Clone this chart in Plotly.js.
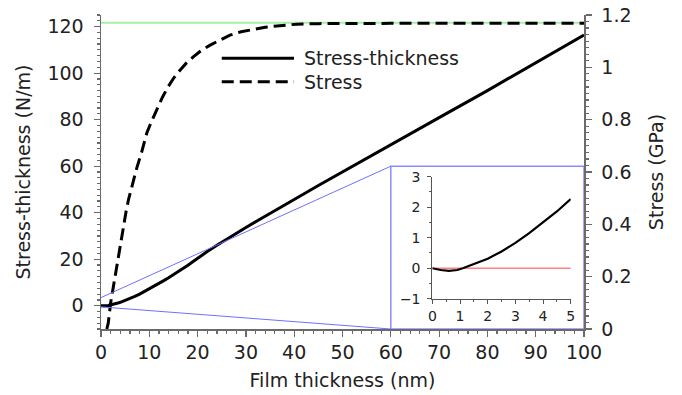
<!DOCTYPE html>
<html>
<head>
<meta charset="utf-8">
<script src="https://cdn.plot.ly/plotly-3.0.1.min.js"></script>
<style>html,body{margin:0;padding:0;background:#fff;}#chart{width:682px;height:395px;}</style>
</head>
<body>
<div id="chart"></div>
<script>
// Stress-thickness (N/m) vs film thickness (nm)
const stX = [0, 0.3, 0.6, 0.9, 1.1, 1.5, 2, 2.5, 3, 3.5, 4, 4.5, 5, 6, 7, 8, 9, 10, 11, 12, 13, 14, 15, 16, 17, 18, 19, 20, 22, 24, 26, 28, 30, 33, 36, 40, 45, 50, 60, 70, 80, 90, 100];
const stY = [0, -0.06, -0.09, -0.06, 0, 0.13, 0.31, 0.55, 0.83, 1.15, 1.49, 1.86, 2.27, 3.1, 4.0, 5.0, 6.1, 7.3, 8.4, 9.6, 10.8, 12.0, 13.3, 14.7, 16.0, 17.4, 18.9, 20.4, 23.3, 26.0, 28.6, 31.1, 33.6, 37.3, 41.0, 45.7, 51.7, 57.6, 69.3, 80.9, 92.5, 104.3, 116.4];
// Stress (GPa) vs film thickness (nm)
const sX = [1.2, 1.5, 2, 2.5, 3, 3.5, 4, 4.6, 5.2, 5.7, 6.4, 7.4, 8.4, 9.5, 10.5, 11.5, 12.7, 13.9, 15.1, 16.4, 17.7, 19.1, 20.8, 22.6, 24.6, 26.7, 29, 31.5, 34, 36.4, 38.5, 40.5, 45, 50, 60, 70, 80, 90, 100];
const sY = [0, 0.022, 0.10, 0.155, 0.215, 0.28, 0.33, 0.40, 0.45, 0.495, 0.545, 0.615, 0.675, 0.75, 0.795, 0.837, 0.885, 0.926, 0.96, 0.99, 1.017, 1.04, 1.065, 1.085, 1.105, 1.123, 1.136, 1.145, 1.153, 1.158, 1.162, 1.165, 1.167, 1.168, 1.168, 1.168, 1.168, 1.168, 1.168];
// Reference (saturation) stress line
const refX = [0, 100];
const refY = [1.17, 1.17];
// Inset: zoom on the first 5 nm
const insetX = stX.filter(v => v <= 5);
const insetY = stY.slice(0, insetX.length);
const zeroX = [0, 5];
const zeroY = [0, 0];
// Zoom indicator geometry (main axes data units)
const boxX = [60, 100];
const boxY = [-10, 60];
const zoomLeftY = [3.5, -0.5];

const seriesNames = ['Stress-thickness', 'Stress'];

const FONT = 'DejaVu Sans, Verdana, sans-serif';
const AX = '#6a6a6a';
const TXT = '#222';
const FS = 19;

const traces = [
  {x: refX, y: refY, xaxis: 'x', yaxis: 'y2', mode: 'lines', line: {color: '#a4f0a4', width: 2}, hoverinfo: 'skip', showlegend: false},
  {x: stX, y: stY, xaxis: 'x', yaxis: 'y', mode: 'lines', name: seriesNames[0], line: {color: '#000', width: 3}, showlegend: false},
  {x: sX, y: sY, xaxis: 'x', yaxis: 'y2', mode: 'lines', name: seriesNames[1], line: {color: '#000', width: 3, dash: '12px,6px'}, showlegend: false},
  {x: zeroX, y: zeroY, xaxis: 'x2', yaxis: 'y3', mode: 'lines', line: {color: '#ff8080', width: 1.5}, showlegend: false, hoverinfo: 'skip'},
  {x: insetX, y: insetY, xaxis: 'x2', yaxis: 'y3', mode: 'lines', line: {color: '#000', width: 2.2}, showlegend: false}
];

const mainTick = {size: FS, family: FONT, color: TXT};
const insetTick = {size: 14, family: FONT, color: TXT};

const layout = {
  width: 682, height: 395,
  margin: {l: 101, r: 98, t: 15, b: 66, pad: 0},
  paper_bgcolor: '#fff', plot_bgcolor: 'rgba(0,0,0,0)',
  font: {family: FONT, size: FS, color: TXT},
  showlegend: false,
  xaxis: {
    domain: [0, 1], range: [0, 100], anchor: 'y', dtick: 10, tick0: 0,
    showline: true, linecolor: AX, linewidth: 1.5, showgrid: false, zeroline: false,
    ticks: 'outside', ticklen: 6, tickcolor: AX, tickwidth: 1.2,
    minor: {dtick: 2, ticklen: 3, tickcolor: AX, ticks: 'outside', showgrid: false},
    tickfont: mainTick,
    title: {text: 'Film thickness (nm)', font: {size: FS, family: FONT, color: TXT}, standoff: 11}
  },
  yaxis: {
    range: [-10, 125], dtick: 20, tick0: 0, side: 'left',
    showline: true, linecolor: AX, linewidth: 1.5, showgrid: false, zeroline: false,
    ticks: 'outside', ticklen: 6, tickcolor: AX, tickwidth: 1.2,
    minor: {dtick: 2.5, ticklen: 3, tickcolor: AX, ticks: 'outside', showgrid: false},
    tickfont: mainTick, ticklabelstandoff: 6,
    title: {text: 'Stress-thickness (N/m)', font: {size: FS, family: FONT, color: TXT}, standoff: 12}
  },
  yaxis2: {
    overlaying: 'y', side: 'right', anchor: 'x', range: [0, 1.2], dtick: 0.2, tick0: 0,
    showline: true, linecolor: AX, linewidth: 1.5, showgrid: false, zeroline: false,
    ticks: 'outside', ticklen: 6, tickcolor: AX, tickwidth: 1.2,
    minor: {dtick: 0.025, ticklen: 3, tickcolor: AX, ticks: 'outside', showgrid: false},
    tickfont: mainTick, ticklabelstandoff: 6,
    title: {text: 'Stress (GPa)', font: {size: FS, family: FONT, color: TXT}, standoff: 19}
  },
  xaxis2: {
    domain: [0.686, 0.9725], anchor: 'y3', range: [0, 5], dtick: 1, tick0: 0,
    showline: true, linecolor: '#555', linewidth: 1, showgrid: false, zeroline: false,
    ticks: 'outside', ticklen: 4, tickcolor: '#555',
    minor: {dtick: 0.5, ticklen: 2, tickcolor: '#555', ticks: 'outside', showgrid: false},
    tickfont: insetTick, ticklabelstandoff: 1
  },
  yaxis3: {
    domain: [0.0965, 0.485], anchor: 'x2', range: [-1, 3], dtick: 1, tick0: 0,
    showline: true, linecolor: '#555', linewidth: 1, showgrid: false, zeroline: false,
    ticks: 'outside', ticklen: 4, tickcolor: '#555',
    minor: {dtick: 0.5, ticklen: 2, tickcolor: '#555', ticks: 'outside', showgrid: false},
    tickfont: insetTick, ticklabelstandoff: 4
  },
  shapes: [
    {type: 'rect', xref: 'x', yref: 'y', x0: boxX[0], x1: boxX[1], y0: boxY[0], y1: boxY[1], line: {color: '#8c8cff', width: 1.5}, fillcolor: 'rgba(0,0,0,0)'},
    {type: 'line', xref: 'x', yref: 'y', x0: 0, y0: zoomLeftY[0], x1: boxX[0], y1: boxY[1], line: {color: '#6f6fff', width: 1}},
    {type: 'line', xref: 'x', yref: 'y', x0: 0, y0: zoomLeftY[1], x1: boxX[0], y1: boxY[0], line: {color: '#6f6fff', width: 1}},
    // legend samples
    {type: 'line', xref: 'paper', yref: 'paper', x0: 0.25, x1: 0.3996, y0: 0.862, y1: 0.862, line: {color: '#000', width: 3}},
    {type: 'line', xref: 'paper', yref: 'paper', x0: 0.25, x1: 0.3996, y0: 0.7876, y1: 0.7876, line: {color: '#000', width: 3, dash: '12px,6px'}}
  ],
  annotations: [
    {xref: 'paper', yref: 'paper', x: 0.416, y: 0.862, xanchor: 'left', yanchor: 'middle', text: seriesNames[0], showarrow: false, font: {size: FS, family: FONT, color: TXT}},
    {xref: 'paper', yref: 'paper', x: 0.416, y: 0.7876, xanchor: 'left', yanchor: 'middle', text: seriesNames[1], showarrow: false, font: {size: FS, family: FONT, color: TXT}}
  ]
};

Plotly.newPlot('chart', traces, layout, {staticPlot: true, displayModeBar: false});
</script>
</body>
</html>
